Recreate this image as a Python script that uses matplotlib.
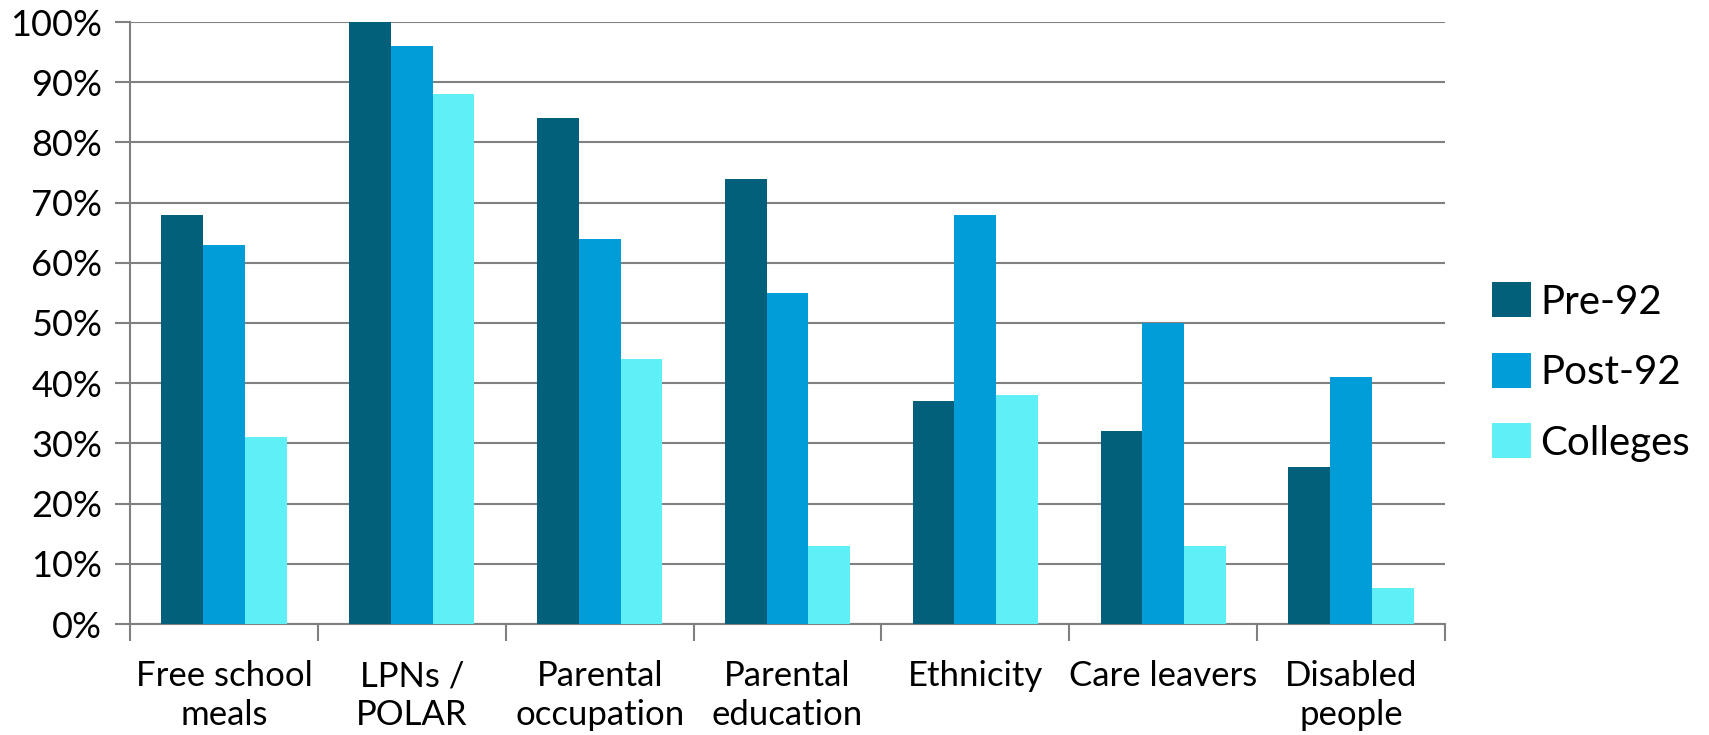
import matplotlib
matplotlib.use("Agg")
import matplotlib.pyplot as plt
import numpy as np
from matplotlib.ticker import FixedLocator, PercentFormatter

categories = ["Free school\nmeals", "LPNs /\nPOLAR", "Parental\noccupation", "Parental\neducation",
              "Ethnicity", "Care leavers", "Disabled\npeople"]
pre92 = [68, 100, 84, 74, 37, 32, 26]
post92 = [63, 96, 64, 55, 68, 50, 41]
colleges = [31, 88, 44, 13, 38, 13, 6]
series_names = ["Pre-92", "Post-92", "Colleges"]
colors = ["#03607A", "#009DD8", "#5EF0F6"]
yticks = list(range(0, 101, 10))

plt.rcParams['font.family'] = ['Lato', 'DejaVu Sans']

fig = plt.figure(figsize=(17.09, 7.35), dpi=100)
ax = fig.add_axes([130/1709, 1-624/735, (1445-130)/1709, (624-22)/735])

x = np.arange(len(categories))
w = 0.667 / 3
for i, (vals, name, c) in enumerate(zip([pre92, post92, colleges], series_names, colors)):
    ax.bar(x + (i - 1) * w, vals, width=w, color=c, label=name, zorder=3)

ax.set_xlim(-0.5, len(categories) - 0.5)
ax.set_ylim(0, 100)
ax.set_yticks(yticks)
ax.yaxis.set_major_formatter(PercentFormatter(decimals=0))
ax.grid(axis='y', color='#808080', linewidth=1.5, zorder=0)
ax.set_axisbelow(True)

ax.set_xticks(x)
ax.set_xticklabels(categories, fontsize=25, linespacing=1.25)
ax.xaxis.set_minor_locator(FixedLocator(np.arange(-0.5, len(categories), 1.0)))
ax.tick_params(axis='x', which='major', length=0, pad=26)
ax.tick_params(axis='x', which='minor', length=12, width=1.5, color='#808080')
ax.tick_params(axis='y', length=11, width=1.5, color='#808080', labelsize=26, pad=9)

for s in ['top', 'right']:
    ax.spines[s].set_visible(False)
for s in ['left', 'bottom']:
    ax.spines[s].set_color('#808080')
    ax.spines[s].set_linewidth(1.5)

leg = fig.legend(loc='center left', bbox_to_anchor=(1456/1709, 1-372/735), frameon=False,
                 fontsize=29, handlelength=0.95, handleheight=0.95, handletextpad=0.25,
                 labelspacing=0.8)

fig.savefig("out.png", dpi=100)
